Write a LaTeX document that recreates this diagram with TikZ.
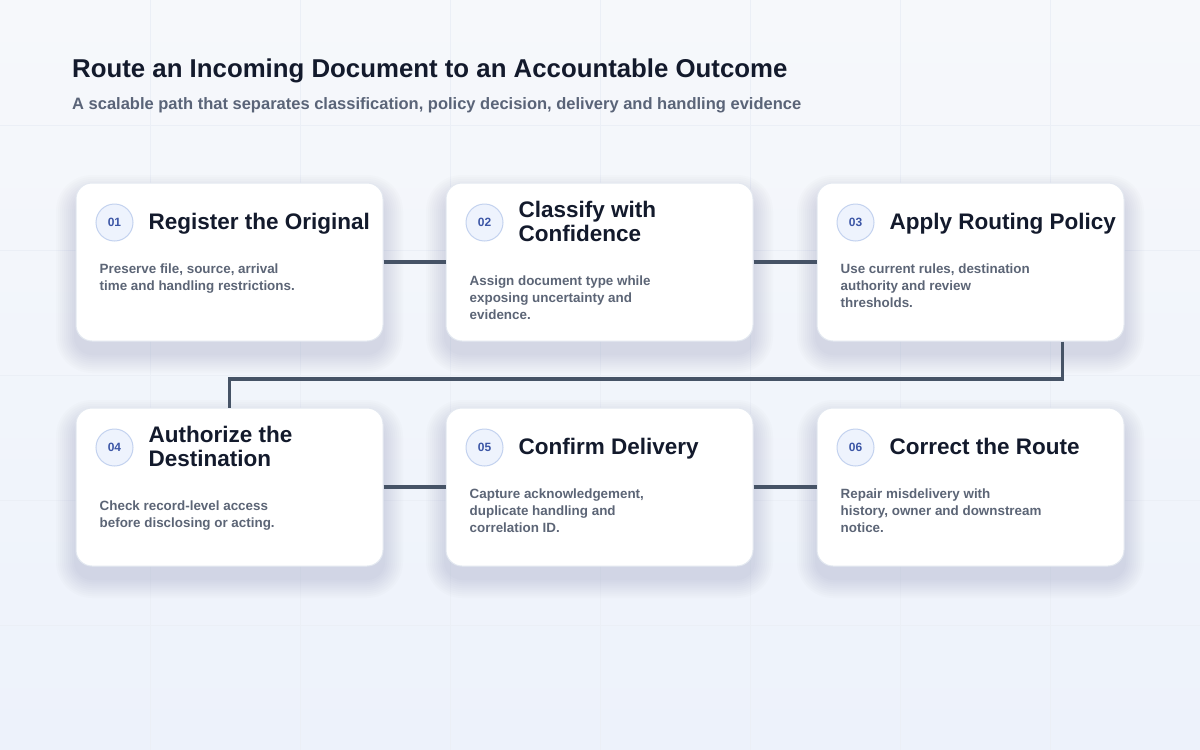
\documentclass[tikz,border=0pt]{standalone}
\usepackage{fontspec}
\setmainfont{Liberation Sans}
\usepackage{tikz}
\usetikzlibrary{calc,positioning}
\definecolor{bgtop}{HTML}{F6F8FB}
\definecolor{bgbot}{HTML}{EDF2FB}
\definecolor{gridc}{HTML}{EBEFF6}
\definecolor{ink}{HTML}{131A2C}
\definecolor{subink}{HTML}{5A6478}
\definecolor{bodyink}{HTML}{5C6576}
\definecolor{linkc}{HTML}{465366}
\definecolor{numfill}{HTML}{EEF3FD}
\definecolor{numline}{HTML}{C3D2EF}
\definecolor{numink}{HTML}{3C56A6}
\definecolor{cardline}{HTML}{E3E8F0}
\definecolor{shadowc}{HTML}{4A5878}
\newcommand{\topstrut}[1]{\rule{0pt}{#1}}
\newcommand{\botstrut}{\rule[-5pt]{0pt}{5pt}}
\tikzset{
  card/.style={draw=cardline, line width=1pt, fill=white, rounded corners=16pt,
    minimum width=307pt, minimum height=158pt, inner sep=0pt},
  cardshade/.style={fill=shadowc, opacity=0.015},
  num/.style={circle, draw=numline, fill=numfill, line width=1pt, minimum size=37pt, inner sep=0pt,
    text=numink, font=\fontsize{12}{14}\selectfont\bfseries},
  steptitle/.style={anchor=west, align=left, inner sep=0pt, text=ink,
    font=\fontsize{22.5}{24}\selectfont\bfseries},
  stepbody/.style={anchor=north west, align=left, inner sep=0pt, text=bodyink,
    font=\fontsize{13.4}{17}\selectfont\bfseries},
  link/.style={draw=linkc, line width=3.5pt}
}
\begin{document}
\begin{tikzpicture}[x=1pt,y=-1pt]
    \useasboundingbox (0,0) rectangle (1200,750);
    \shade[top color=bgtop, bottom color=bgbot] (0,0) rectangle (1200,750);
    \foreach \gx in {150,300,...,1050} \draw[gridc, line width=0.6pt] (\gx,0) -- (\gx,750);
    \foreach \gy in {125,250,...,625} \draw[gridc, line width=0.6pt] (0,\gy) -- (1200,\gy);
    \node (title) [anchor=base west, inner sep=0pt, text=ink, font=\fontsize{25.8}{30}\selectfont\bfseries]
      at (72,77) {Route an Incoming Document to an Accountable Outcome};
    \node (sub) [anchor=base west, inner sep=0pt, text=subink, font=\fontsize{16.5}{20}\selectfont\bfseries]
      at (72,109.5) {A scalable path that separates classification, policy decision, delivery and handling evidence};
    \foreach \i/\cx/\cy/\ttl/\txt in {
      1/229.5/262/{Register the Original}/{Preserve file, source, arrival\\time and handling restrictions.},
      2/599.5/262/{Classify with\\Confidence}/{Assign document type while\\exposing uncertainty and\\evidence.},
      3/970.5/262/{Apply Routing Policy}/{Use current rules, destination\\authority and review\\thresholds.},
      4/229.5/487/{Authorize the\\Destination}/{Check record-level access\\before disclosing or acting.},
      5/599.5/487/{Confirm Delivery}/{Capture acknowledgement,\\duplicate handling and\\correlation ID.},
      6/970.5/487/{Correct the Route}/{Repair misdelivery with\\history, owner and downstream\\notice.}}
    {
      % soft shadow under the card
      \foreach \s in {2,4,...,20}
        \fill[cardshade, rounded corners=16+\s] (\cx-153.5-\s,\cy-67-\s) rectangle (\cx+153.5+\s,\cy+91+\s);
      \node (c\i) [card] at (\cx,\cy) {};
      \node (n\i) [num] at ($(c\i.north west)+(39,40)$) {0\i};
      \node (t\i) [steptitle] at ($(c\i.north west)+(73,41.5)$) {\topstrut{16pt}\ttl\botstrut};
      \node (b\i) [stepbody] at ($(t\i.south -| c\i.west)+(24,28.5)$) {\topstrut{10pt}\txt};
    }
    \coordinate (drop) at ($(c3.south east)+(-62,0)$);
    \coordinate (turn) at (229.5,379);
    \path (c1.east) edge [link] (c2.west);
    \path (c2.east) edge [link] (c3.west);
    \draw [link] (drop) |- (turn) -- (c4.north);
    \path (c4.east) edge [link] (c5.west);
    \path (c5.east) edge [link] (c6.west);
\end{tikzpicture}
\end{document}
